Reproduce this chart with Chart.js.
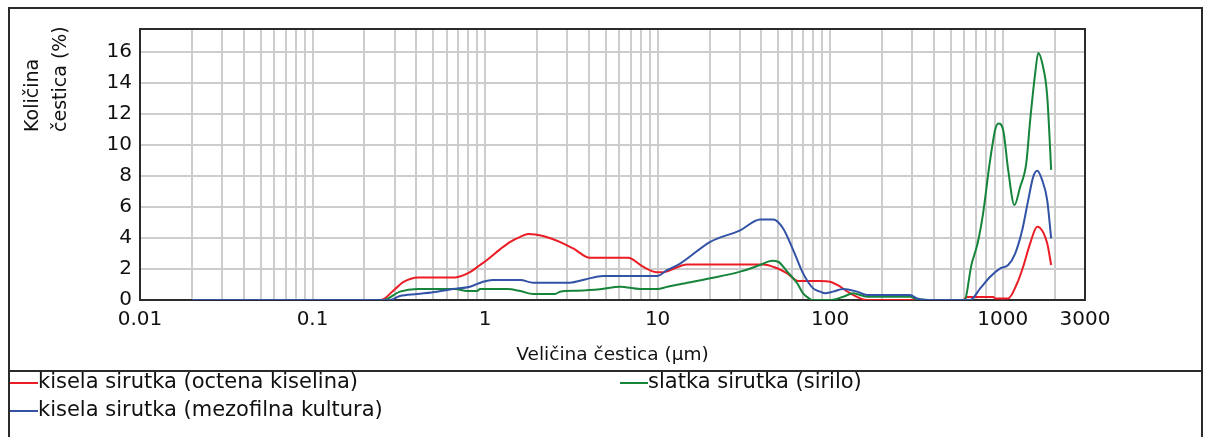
<!DOCTYPE html>
<html>
<head>
<meta charset="utf-8">
<script src="https://cdn.jsdelivr.net/npm/chart.js@4/dist/chart.umd.min.js"></script>
<style>
  body { margin: 0; background: #fff; }
  canvas { display: block; }
</style>
</head>
<body>
<canvas id="psd" width="1212" height="437"></canvas>
<script>
// particle size (µm) and volume share (%)
const redSize = [0.02, 0.249, 0.3, 0.335, 0.409, 0.67, 0.818, 0.935, 1.03, 1.22, 1.4, 1.6, 1.78, 2.17, 2.83, 3.24, 4.06, 6.75, 8.24, 9.94, 10.8, 14.8, 40.9, 49.3, 56.4, 65.3, 87.5, 100, 110, 131, 164, 590, 622, 881, 905, 1076, 1213, 1314, 1443, 1585, 1811, 1910];
const redPct = [0, 0, 0.7, 1.15, 1.46, 1.46, 1.8, 2.26, 2.6, 3.27, 3.76, 4.08, 4.26, 4.13, 3.66, 3.33, 2.73, 2.73, 2.15, 1.79, 1.8, 2.3, 2.3, 2.05, 1.72, 1.23, 1.23, 1.18, 0.97, 0.43, 0, 0, 0.2, 0.2, 0.1, 0.1, 1.08, 2.15, 3.66, 4.73, 3.66, 2.26];

const greenSize = [0.02, 0.256, 0.321, 0.404, 0.67, 0.787, 0.899, 0.935, 1.34, 1.6, 1.9, 2.55, 2.72, 3.41, 4.64, 6.07, 7.92, 9.94, 11.4, 13.5, 20.2, 30.1, 39.3, 46.1, 50, 56.4, 64.4, 69.7, 76.6, 78.7, 100, 119, 136, 164, 291, 319, 395, 600, 660, 717, 770, 840, 905, 945, 1007, 1076, 1170, 1262, 1369, 1443, 1542, 1607, 1694, 1811, 1910];
const greenPct = [0, 0, 0.54, 0.71, 0.71, 0.58, 0.58, 0.71, 0.71, 0.58, 0.39, 0.39, 0.54, 0.6, 0.69, 0.86, 0.71, 0.71, 0.86, 1.02, 1.4, 1.83, 2.26, 2.54, 2.47, 1.83, 1.08, 0.43, 0.06, 0, 0, 0.21, 0.43, 0.21, 0.21, 0.05, 0, 0, 2.3, 3.7, 5.6, 8.8, 11.0, 11.4, 10.97, 8.4, 6.13, 7.3, 8.8, 11.6, 14.6, 15.95, 15.3, 13.2, 8.4];

const blueSize = [0.02, 0.281, 0.321, 0.404, 0.527, 0.652, 0.818, 0.973, 1.11, 1.6, 1.9, 3.11, 3.8, 4.83, 9.94, 11.4, 13.5, 20.2, 30.1, 39.3, 46.8, 53.4, 61.1, 69.7, 79.7, 87.5, 93.5, 104, 119, 143, 164, 291, 319, 395, 648, 741, 847, 968, 1076, 1181, 1297, 1406, 1503, 1585, 1694, 1811, 1910];
const bluePct = [0, 0, 0.26, 0.39, 0.54, 0.71, 0.86, 1.18, 1.29, 1.29, 1.12, 1.12, 1.33, 1.55, 1.55, 1.94, 2.35, 3.76, 4.5, 5.2, 5.2, 4.62, 3.22, 1.72, 0.75, 0.54, 0.43, 0.54, 0.71, 0.54, 0.32, 0.32, 0.1, 0, 0, 0.75, 1.5, 2.04, 2.26, 3.0, 4.5, 6.45, 7.95, 8.34, 7.74, 6.45, 3.98];

const seriesNames = ['kisela sirutka (octena kiselina)', 'slatka sirutka (sirilo)', 'kisela sirutka (mezofilna kultura)'];
const seriesColors = ['rgb(235, 28, 36)', 'rgb(22, 132, 58)', 'rgb(50, 82, 165)'];

const xTickLabels = [0.01, 0.1, 1, 10, 100, 1000, 3000];
const yTickLabels = [0, 2, 4, 6, 8, 10, 12, 14, 16];

const xTitle = 'Veličina čestica (µm)';
const yTitle = ['Količina', 'čestica (%)'];

const FONT = '"DejaVu Sans", Verdana, sans-serif';
const TEXT = '#111';

function pairs(xs, ys) {
  return xs.map((x, i) => ({ x: x, y: ys[i] }));
}

// minor grid: 1..9 in every decade, plus 2000 and 3000
function logGridValues() {
  const vals = [];
  for (let d = 0; d < xTickLabels.length - 2; d++) {
    const base = xTickLabels[d];
    for (let k = 1; k <= 9; k++) vals.push(+(base * k).toPrecision(6));
  }
  vals.push(1000, 2000, 3000);
  return vals;
}

// frame, outer box, titles and the legend
const decorations = {
  id: 'decorations',
  beforeDatasetsDraw(chart) {
    const { ctx, chartArea: a } = chart;
    ctx.save();
    ctx.strokeStyle = '#2b2b2b';
    ctx.lineWidth = 2;
    ctx.strokeRect(a.left, a.top, a.right - a.left, a.bottom - a.top);
    ctx.restore();
  },
  afterDraw(chart) {
    const { ctx, chartArea: a } = chart;
    ctx.save();
    // outer box
    ctx.strokeStyle = '#2b2b2b';
    ctx.lineWidth = 2;
    ctx.beginPath();
    ctx.moveTo(9, 437); ctx.lineTo(9, 8); ctx.lineTo(1202, 8); ctx.lineTo(1202, 437);
    ctx.moveTo(9, 371); ctx.lineTo(1202, 371);
    ctx.stroke();

    // axis titles
    ctx.fillStyle = TEXT;
    ctx.font = '18.5px ' + FONT;
    ctx.textAlign = 'center';
    ctx.textBaseline = 'middle';
    ctx.fillText(xTitle, (a.left + a.right) / 2, 355);

    ctx.save();
    ctx.translate(33, 132);
    ctx.rotate(-Math.PI / 2);
    ctx.textAlign = 'left';
    ctx.font = '19px ' + FONT;
    ctx.fillText(yTitle[0], 0, 0);
    ctx.fillText(yTitle[1], 0, 28);
    ctx.restore();

    // legend
    const spots = [[10, 383], [620, 383], [10, 411]];
    ctx.font = '21px ' + FONT;
    ctx.textAlign = 'left';
    spots.forEach((p, i) => {
      ctx.strokeStyle = seriesColors[i];
      ctx.lineWidth = 2;
      ctx.beginPath();
      ctx.moveTo(p[0], p[1]);
      ctx.lineTo(p[0] + 28, p[1]);
      ctx.stroke();
      ctx.fillStyle = TEXT;
      ctx.fillText(seriesNames[i], p[0] + 28, p[1]);
    });
    ctx.restore();
  }
};

function makeDataset(i, xs, ys, order) {
  return {
    label: seriesNames[i],
    data: pairs(xs, ys),
    borderColor: seriesColors[i],
    backgroundColor: seriesColors[i],
    borderWidth: 2,
    pointRadius: 0,
    cubicInterpolationMode: 'monotone',
    fill: false,
    order: order
  };
}

const ctx = document.getElementById('psd').getContext('2d');
new Chart(ctx, {
  type: 'line',
  data: {
    datasets: [
      makeDataset(0, redSize, redPct, 2),
      makeDataset(1, greenSize, greenPct, 1),
      makeDataset(2, blueSize, bluePct, 0)
    ]
  },
  options: {
    responsive: false,
    animation: false,
    layout: { padding: { left: 0, top: 29, right: 127, bottom: 97 } },
    plugins: {
      legend: { display: false },
      tooltip: { enabled: false }
    },
    scales: {
      x: {
        type: 'logarithmic',
        min: 0.01,
        max: 3000,
        afterFit(scale) { scale.height = 40; },
        afterBuildTicks(scale) {
          scale.ticks = logGridValues().map(v => ({ value: v }));
        },
        grid: { color: 'rgb(205, 205, 205)', lineWidth: 2, drawTicks: false },
        border: { display: false },
        ticks: {
          autoSkip: false,
          maxRotation: 0,
          padding: 8,
          color: TEXT,
          font: { family: FONT, size: 20 },
          callback(value) {
            return xTickLabels.includes(value) ? String(value) : '';
          }
        }
      },
      y: {
        min: 0,
        max: 17.5,
        afterFit(scale) { scale.width = 140; },
        afterBuildTicks(scale) {
          scale.ticks = yTickLabels.map(v => ({ value: v }));
        },
        grid: { color: 'rgb(205, 205, 205)', lineWidth: 2, drawTicks: false },
        border: { display: false },
        ticks: {
          padding: 8,
          color: TEXT,
          font: { family: FONT, size: 20 }
        }
      }
    }
  },
  plugins: [decorations]
});
</script>
</body>
</html>
